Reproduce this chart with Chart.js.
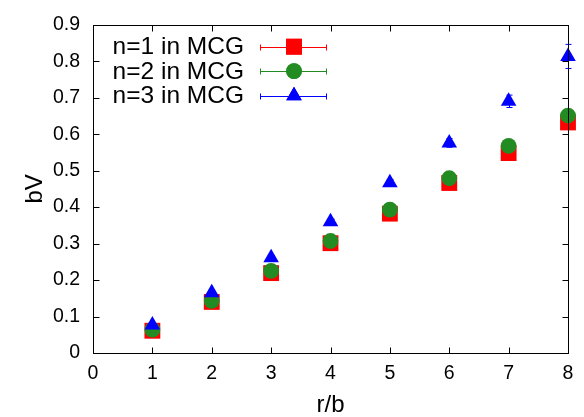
<!DOCTYPE html>
<html>
<head>
<meta charset="utf-8">
<script src="https://cdn.jsdelivr.net/npm/chart.js@4"></script>
<style>
  body { margin: 0; background: #fff; }
  canvas { display: block; }
</style>
</head>
<body>
<canvas id="myChart" width="584" height="417"></canvas>
<script>
// r/b positions
const rb = [1, 2, 3, 4, 5, 6, 7, 8];
// bV values
const mcg1 = [0.061, 0.140, 0.219, 0.301, 0.382, 0.466, 0.548, 0.632];
const mcg2 = [0.064, 0.143, 0.225, 0.307, 0.393, 0.479, 0.568, 0.651];
const mcg3 = [0.077, 0.165, 0.261, 0.360, 0.467, 0.576, 0.690, 0.813];
// error bar half-widths
const err1 = [0.002, 0.003, 0.004, 0.005, 0.006, 0.007, 0.008, 0.010];
const err2 = [0.002, 0.003, 0.004, 0.005, 0.006, 0.007, 0.009, 0.011];
const err3 = [0.003, 0.004, 0.005, 0.007, 0.009, 0.012, 0.017, 0.033];

const fontFamily = "'Liberation Sans', Arial, sans-serif";

const toPoints = (ys) => rb.map((x, i) => ({ x: x, y: ys[i] }));

// error bars drawn under the markers
const errorBars = {
    id: 'errorBars',
    beforeDatasetsDraw(chart) {
        const ctx = chart.ctx;
        const xs = chart.scales.x, ys = chart.scales.y;
        chart.data.datasets.forEach((ds) => {
            ctx.save();
            ctx.strokeStyle = ds.borderColor;
            ctx.lineWidth = 1;
            ds.data.forEach((p, j) => {
                const px = Math.round(xs.getPixelForValue(p.x)) + 0.5;
                const top = ys.getPixelForValue(p.y + ds.errors[j]);
                const bot = ys.getPixelForValue(p.y - ds.errors[j]);
                ctx.beginPath();
                ctx.moveTo(px, top); ctx.lineTo(px, bot);
                ctx.moveTo(px - 3, top); ctx.lineTo(px + 3, top);
                ctx.moveTo(px - 3, bot); ctx.lineTo(px + 3, bot);
                ctx.stroke();
            });
            ctx.restore();
        });
    }
};

// gnuplot style frame with inward ticks on every side
const frame = {
    id: 'frame',
    afterDatasetsDraw(chart) {
        const ctx = chart.ctx;
        const a = chart.chartArea;
        const xs = chart.scales.x, ys = chart.scales.y;
        const L = Math.round(a.left) + 0.5, R = Math.round(a.right) + 0.5;
        const T = Math.round(a.top) + 0.5, B = Math.round(a.bottom) + 0.5;
        ctx.save();
        ctx.strokeStyle = '#000';
        ctx.lineWidth = 1;
        ctx.beginPath();
        xs.ticks.forEach((t) => {
            const px = Math.round(xs.getPixelForValue(t.value)) + 0.5;
            ctx.moveTo(px, B); ctx.lineTo(px, B - 6);
            ctx.moveTo(px, T); ctx.lineTo(px, T + 6);
        });
        ys.ticks.forEach((t) => {
            const py = Math.round(ys.getPixelForValue(t.value)) + 0.5;
            ctx.moveTo(L, py); ctx.lineTo(L + 6, py);
            ctx.moveTo(R, py); ctx.lineTo(R - 6, py);
        });
        ctx.stroke();
        ctx.strokeRect(L, T, R - L, B - T);
        ctx.restore();
    }
};

// legend with the error bar sample to the right of the text
const keyBox = {
    id: 'keyBox',
    afterDraw(chart) {
        const ctx = chart.ctx;
        const a = chart.chartArea;
        ctx.save();
        ctx.font = '24.5px ' + fontFamily;
        ctx.textAlign = 'right';
        ctx.textBaseline = 'middle';
        chart.data.datasets.forEach((ds, i) => {
            const y = a.top + 22 + i * 24.5;
            const yl = Math.round(y) + 0.5;
            ctx.fillStyle = '#000';
            ctx.fillText(ds.label, a.left + 151, y + 1);
            ctx.strokeStyle = ds.borderColor;
            ctx.lineWidth = 1;
            ctx.beginPath();
            ctx.moveTo(a.left + 167, yl); ctx.lineTo(a.left + 234, yl);
            ctx.moveTo(a.left + 167.5, yl - 3); ctx.lineTo(a.left + 167.5, yl + 3);
            ctx.moveTo(a.left + 233.5, yl - 3); ctx.lineTo(a.left + 233.5, yl + 3);
            ctx.stroke();
            ctx.fillStyle = ds.backgroundColor;
            Chart.helpers.drawPoint(ctx, {
                pointStyle: ds.pointStyle,
                radius: ds.pointRadius,
                rotation: 0,
                borderWidth: 0
            }, a.left + 201, y);
            ctx.fill();
        });
        ctx.restore();
    }
};

const ctx = document.getElementById('myChart').getContext('2d');
const myChart = new Chart(ctx, {
    type: 'scatter',
    data: {
        datasets: [{
            label: 'n=1 in MCG',
            data: toPoints(mcg1),
            errors: err1,
            pointStyle: 'rect',
            pointRadius: 11.2,
            backgroundColor: '#ff0000',
            borderColor: '#ff0000',
            borderWidth: 0,
            order: 3,
            clip: false
        }, {
            label: 'n=2 in MCG',
            data: toPoints(mcg2),
            errors: err2,
            pointStyle: 'circle',
            pointRadius: 7.9,
            backgroundColor: '#228b22',
            borderColor: '#228b22',
            borderWidth: 0,
            order: 2,
            clip: false
        }, {
            label: 'n=3 in MCG',
            data: toPoints(mcg3),
            errors: err3,
            pointStyle: 'triangle',
            pointRadius: 9,
            backgroundColor: '#0000ff',
            borderColor: '#0000ff',
            borderWidth: 0,
            order: 1,
            clip: false
        }]
    },
    options: {
        responsive: false,
        animation: false,
        events: [],
        layout: { padding: { top: 11, right: 16, left: 0, bottom: 0 } },
        plugins: {
            legend: { display: false },
            tooltip: { enabled: false }
        },
        scales: {
            x: {
                type: 'linear',
                min: 0,
                max: 8,
                afterFit: (scale) => { scale.height = 64; },
                grid: { display: false, drawTicks: false },
                border: { display: false },
                ticks: {
                    stepSize: 1,
                    padding: 9,
                    color: '#000',
                    font: { family: fontFamily, size: 19.5 }
                },
                title: {
                    display: true,
                    text: 'r/b',
                    color: '#000',
                    font: { family: fontFamily, size: 24, lineHeight: 1 },
                    padding: { top: 0, bottom: 0 }
                }
            },
            y: {
                min: 0,
                max: 0.9,
                afterFit: (scale) => { scale.width = 93; },
                grid: { display: false, drawTicks: false },
                border: { display: false },
                ticks: {
                    stepSize: 0.1,
                    padding: 13,
                    color: '#000',
                    font: { family: fontFamily, size: 19.5 },
                    callback: (v) => v === 0 ? '0' : v.toFixed(1)
                },
                title: {
                    display: true,
                    text: 'bV',
                    color: '#000',
                    font: { family: fontFamily, size: 24, lineHeight: 1 },
                    padding: { top: 23, bottom: 0 }
                }
            }
        }
    },
    plugins: [errorBars, frame, keyBox]
});
</script>
</body>
</html>
